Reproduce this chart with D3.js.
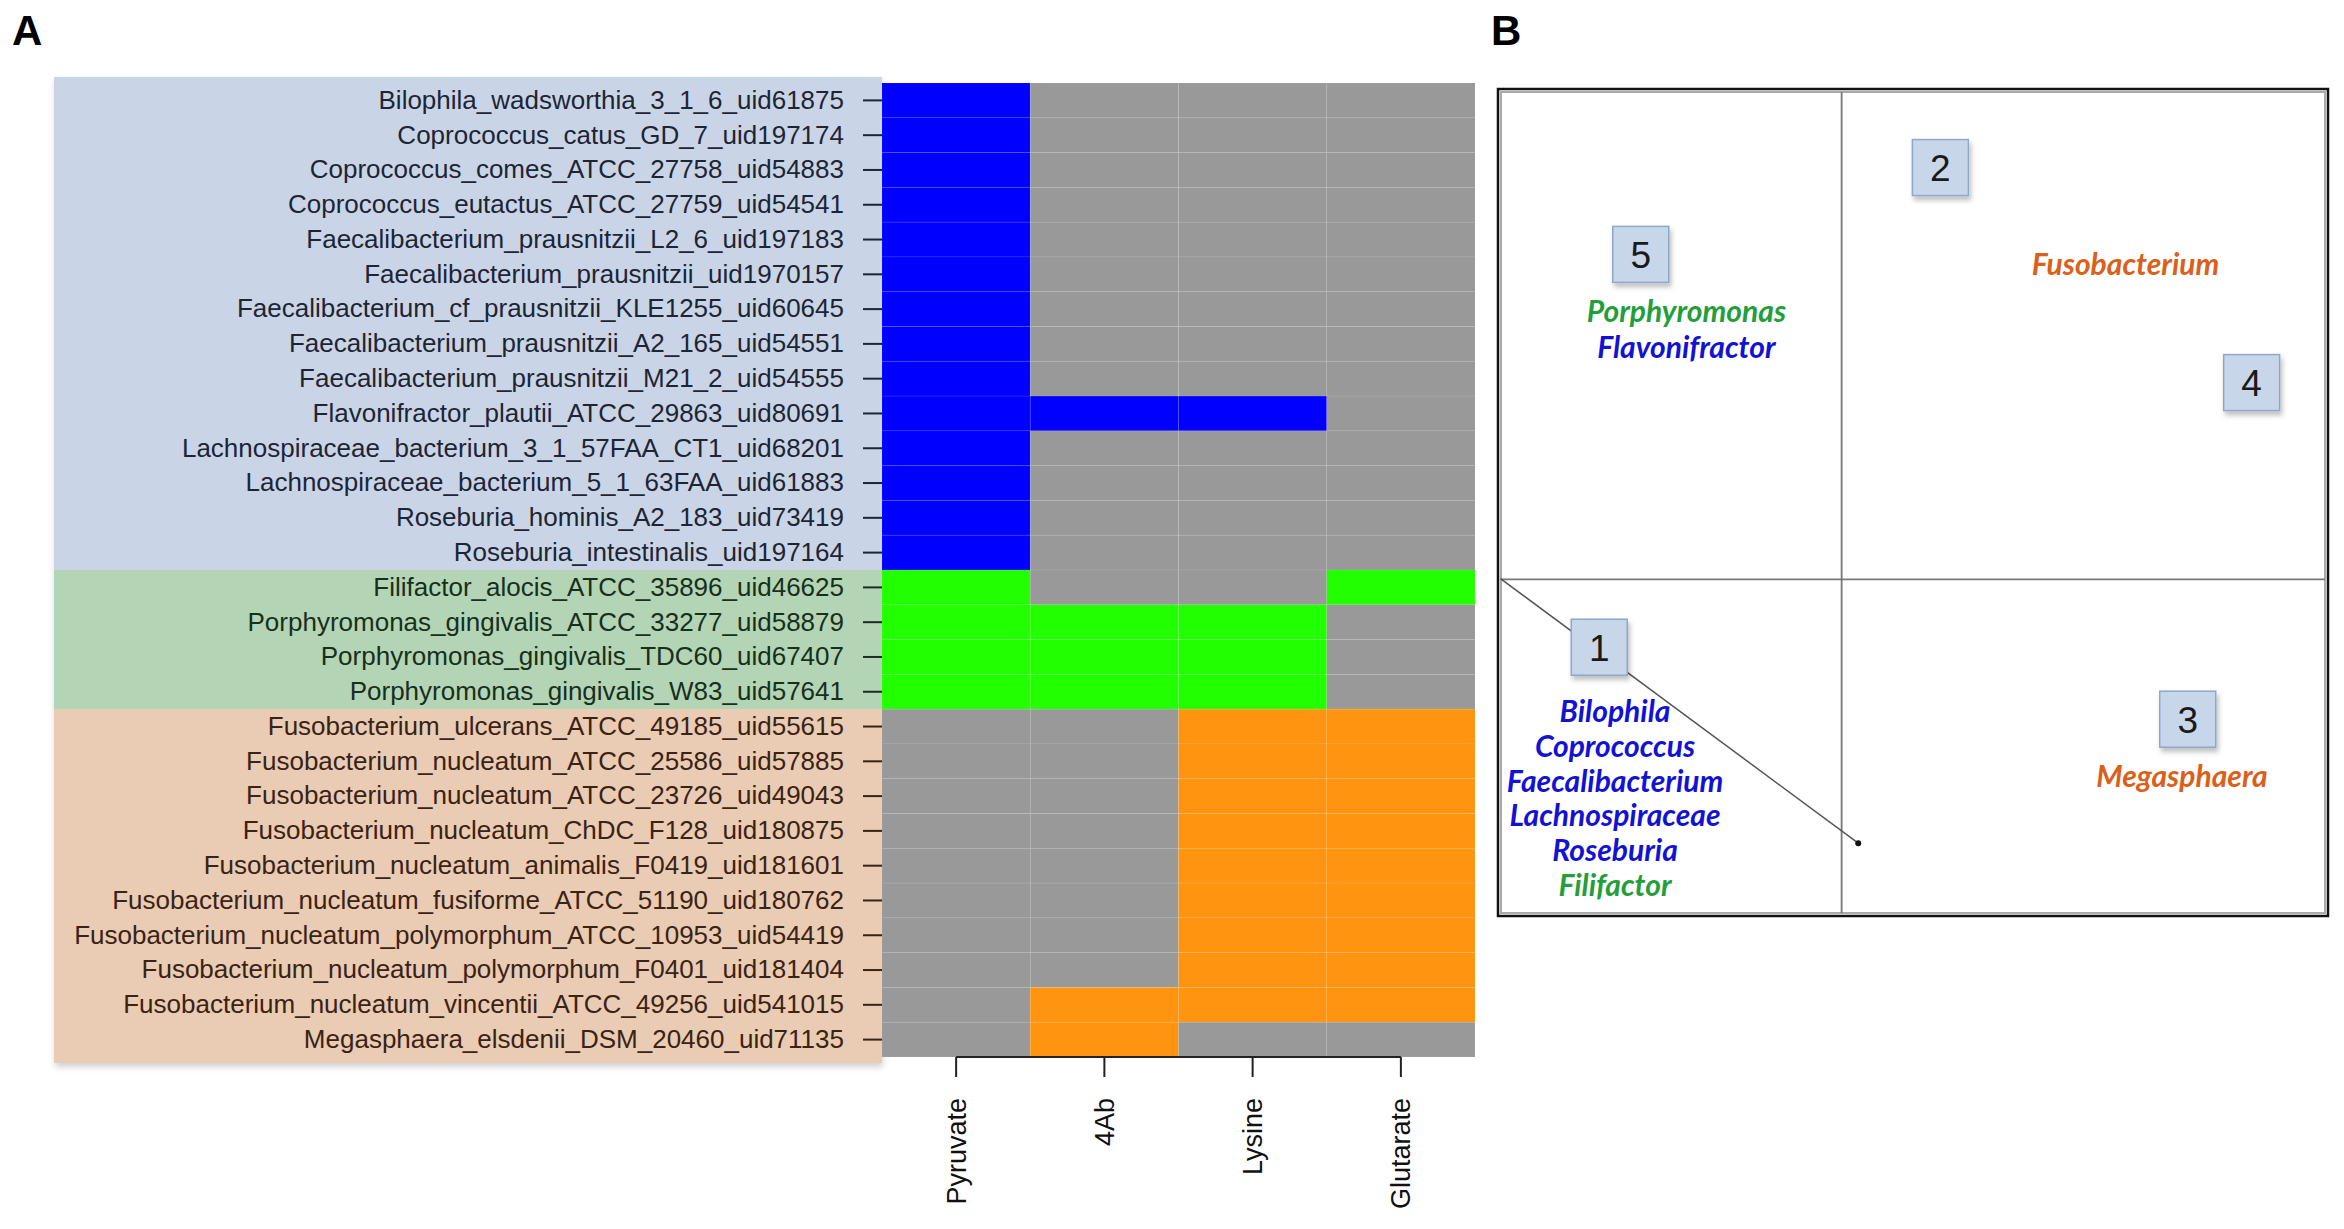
<!DOCTYPE html>
<html>
<head>
<meta charset="utf-8">
<script src="https://cdn.jsdelivr.net/npm/d3@7"></script>
<style>
  body { margin: 0; background: #fff; }
  svg { display: block; }
</style>
</head>
<body>
<svg id="fig" width="2344" height="1229"></svg>
<script>
// Panel A : heatmap présence/absence des voies de production du butyrate
const strains = [
  "Bilophila_wadsworthia_3_1_6_uid61875",
  "Coprococcus_catus_GD_7_uid197174",
  "Coprococcus_comes_ATCC_27758_uid54883",
  "Coprococcus_eutactus_ATCC_27759_uid54541",
  "Faecalibacterium_prausnitzii_L2_6_uid197183",
  "Faecalibacterium_prausnitzii_uid1970157",
  "Faecalibacterium_cf_prausnitzii_KLE1255_uid60645",
  "Faecalibacterium_prausnitzii_A2_165_uid54551",
  "Faecalibacterium_prausnitzii_M21_2_uid54555",
  "Flavonifractor_plautii_ATCC_29863_uid80691",
  "Lachnospiraceae_bacterium_3_1_57FAA_CT1_uid68201",
  "Lachnospiraceae_bacterium_5_1_63FAA_uid61883",
  "Roseburia_hominis_A2_183_uid73419",
  "Roseburia_intestinalis_uid197164",
  "Filifactor_alocis_ATCC_35896_uid46625",
  "Porphyromonas_gingivalis_ATCC_33277_uid58879",
  "Porphyromonas_gingivalis_TDC60_uid67407",
  "Porphyromonas_gingivalis_W83_uid57641",
  "Fusobacterium_ulcerans_ATCC_49185_uid55615",
  "Fusobacterium_nucleatum_ATCC_25586_uid57885",
  "Fusobacterium_nucleatum_ATCC_23726_uid49043",
  "Fusobacterium_nucleatum_ChDC_F128_uid180875",
  "Fusobacterium_nucleatum_animalis_F0419_uid181601",
  "Fusobacterium_nucleatum_fusiforme_ATCC_51190_uid180762",
  "Fusobacterium_nucleatum_polymorphum_ATCC_10953_uid54419",
  "Fusobacterium_nucleatum_polymorphum_F0401_uid181404",
  "Fusobacterium_nucleatum_vincentii_ATCC_49256_uid541015",
  "Megasphaera_elsdenii_DSM_20460_uid71135"
]

// groupe de chaque souche (bleu / vert / orange)
const strainGroup = [
  "blue","blue","blue","blue","blue","blue","blue","blue","blue","blue","blue","blue","blue","blue",
  "green","green","green","green",
  "orange","orange","orange","orange","orange","orange","orange","orange","orange","orange"
]

const substrates = ["Pyruvate", "4Ab", "Lysine", "Glutarate"]

// 1 = voie présente, 0 = absente
const presence = [
  [1,0,0,0],[1,0,0,0],[1,0,0,0],[1,0,0,0],[1,0,0,0],[1,0,0,0],[1,0,0,0],
  [1,0,0,0],[1,0,0,0],[1,1,1,0],[1,0,0,0],[1,0,0,0],[1,0,0,0],[1,0,0,0],
  [1,0,0,1],[1,1,1,0],[1,1,1,0],[1,1,1,0],
  [0,0,1,1],[0,0,1,1],[0,0,1,1],[0,0,1,1],[0,0,1,1],[0,0,1,1],[0,0,1,1],
  [0,0,1,1],[0,1,1,1],[0,1,0,0]
]

// Panel B : clusters et genres (coordonnées dans l'espace du schéma)
const clusterIds = ["1", "2", "3", "4", "5"]
const clusterX   = [-2.92, 1.19, 4.17, 4.94, -2.42]
const clusterY   = [-0.82, 4.98, -1.69, 2.38, 3.93]

const genusNames = ["Porphyromonas", "Flavonifractor", "Fusobacterium", "Megasphaera",
  "Bilophila", "Coprococcus", "Faecalibacterium", "Lachnospiraceae", "Roseburia", "Filifactor"]
const genusGroup = ["green", "blue", "orange", "orange",
  "blue", "blue", "blue", "blue", "blue", "green"]
const genusX = [-1.87, -1.87, 3.42, 4.10, -2.73, -2.73, -2.73, -2.73, -2.73, -2.73]
const genusY = [3.24, 2.81, 3.81, -2.38, -1.60, -2.02, -2.44, -2.86, -3.28, -3.70]

// segment diagonal partant de l'axe
const segX = [-4.11, 0.20]
const segY = [0.01, -3.19]

// ── couleurs ──────────────────────────────────────────
const heatColor  = { blue: "#0000ff", green: "#22ff00", orange: "#ff9410" }
const panelColor = { blue: "#c9d5e6", green: "#b4d4b6", orange: "#eacbb3" }
const textColor  = { blue: "#1d2535", green: "#16301b", orange: "#3a2314" }
const genusColor = { blue: "#1212d4", green: "#249e3b", orange: "#da601b" }
const absentColor = "#999999"

const svg = d3.select("#fig")
const defs = svg.append("defs")

const sh = defs.append("filter").attr("id", "soft").attr("x", "-10%").attr("y", "-10%")
  .attr("width", "130%").attr("height", "130%")
sh.append("feDropShadow").attr("dx", 1).attr("dy", 4).attr("stdDeviation", 3)
  .attr("flood-color", "#000").attr("flood-opacity", 0.18)

const sh2 = defs.append("filter").attr("id", "boxsh").attr("x", "-20%").attr("y", "-20%")
  .attr("width", "150%").attr("height", "150%")
sh2.append("feDropShadow").attr("dx", 2).attr("dy", 4).attr("stdDeviation", 2.5)
  .attr("flood-color", "#000").attr("flood-opacity", 0.25)

// lettres des panneaux
svg.append("text").attr("x", 12).attr("y", 45).text("A")
  .attr("font-family", "Liberation Sans, Arial, sans-serif").attr("font-weight", "bold").attr("font-size", 42)
svg.append("text").attr("x", 1491).attr("y", 45).text("B")
  .attr("font-family", "Liberation Sans, Arial, sans-serif").attr("font-weight", "bold").attr("font-size", 42)

// ── Panel A ───────────────────────────────────────────
const x = d3.scaleBand().domain(substrates).range([882, 1475])
const y = d3.scaleBand().domain(strains).range([83, 1057])

// fonds colorés derrière les noms
const groupsOrder = ["blue", "green", "orange"]
const bgG = svg.append("g").attr("filter", "url(#soft)")
groupsOrder.forEach((g, gi) => {
  const rows = strains.filter((s, i) => strainGroup[i] === g)
  const top = y(rows[0]) - (gi === 0 ? 6 : 0)
  const bot = y(rows[rows.length - 1]) + y.bandwidth() + (gi === groupsOrder.length - 1 ? 6 : 0)
  bgG.append("rect").attr("x", 54).attr("y", top).attr("width", 882 - 54).attr("height", bot - top)
    .attr("fill", panelColor[g])
})

// cellules
const cells = []
strains.forEach((s, i) => substrates.forEach((sub, j) => {
  cells.push({ s, sub, v: presence[i][j], g: strainGroup[i] })
}))
svg.append("g").selectAll("rect").data(cells).join("rect")
  .attr("x", d => x(d.sub)).attr("y", d => y(d.s))
  .attr("width", x.bandwidth()).attr("height", y.bandwidth())
  .attr("fill", d => d.v ? heatColor[d.g] : absentColor)
  .attr("stroke", "rgba(255,255,255,0.07)").attr("stroke-width", 1)

// axe des souches
const yAxis = svg.append("g").attr("transform", "translate(882,0)")
  .call(d3.axisLeft(y).tickSize(19).tickPadding(19))
yAxis.select(".domain").remove()
yAxis.selectAll(".tick text")
  .attr("font-family", "Liberation Sans, Arial, sans-serif").attr("font-size", 26)
  .attr("fill", d => textColor[strainGroup[strains.indexOf(d)]])
yAxis.selectAll(".tick line").attr("stroke-width", 2)
  .attr("stroke", d => textColor[strainGroup[strains.indexOf(d)]])

// axe des substrats
const xAxis = svg.append("g").attr("transform", "translate(0,1057)")
  .call(d3.axisBottom(x).tickSize(20))
xAxis.select(".domain").remove()
xAxis.append("line")
  .attr("x1", x(substrates[0]) + x.bandwidth() / 2)
  .attr("x2", x(substrates[substrates.length - 1]) + x.bandwidth() / 2)
  .attr("stroke", "#222").attr("stroke-width", 2)
xAxis.selectAll(".tick line").attr("stroke", "#222").attr("stroke-width", 2)
xAxis.selectAll(".tick text")
  .attr("font-family", "Liberation Sans, Arial, sans-serif").attr("font-size", 27).attr("fill", "#111")
  .attr("text-anchor", "end").attr("x", 0).attr("y", 0).attr("dy", "0.35em")
  .attr("transform", "translate(0,41) rotate(-90)")

// ── Panel B ───────────────────────────────────────────
const bx = d3.scaleLinear().domain([-4.14, 5.86]).range([1498, 2328])
const by = d3.scaleLinear().domain([-4.07, 5.93]).range([916, 89])

const B = svg.append("g")
B.append("rect").attr("x", bx(-4.14)).attr("y", by(5.93))
  .attr("width", bx(5.86) - bx(-4.14)).attr("height", by(-4.07) - by(5.93))
  .attr("fill", "#fff").attr("stroke", "#111").attr("stroke-width", 2.5)
B.append("rect").attr("x", bx(-4.14) + 3).attr("y", by(5.93) + 3)
  .attr("width", bx(5.86) - bx(-4.14) - 6).attr("height", by(-4.07) - by(5.93) - 6)
  .attr("fill", "none").attr("stroke", "#aaa").attr("stroke-width", 2)

// axes du schéma
B.append("line").attr("x1", bx(0)).attr("x2", bx(0)).attr("y1", by(5.93) + 3).attr("y2", by(-4.07) - 3)
  .attr("stroke", "#777").attr("stroke-width", 1.8)
B.append("line").attr("x1", bx(-4.14) + 3).attr("x2", bx(5.86) - 3).attr("y1", by(0)).attr("y2", by(0))
  .attr("stroke", "#777").attr("stroke-width", 1.8)

// segment diagonal
B.append("line").attr("x1", bx(segX[0])).attr("y1", by(segY[0]))
  .attr("x2", bx(segX[1])).attr("y2", by(segY[1]))
  .attr("stroke", "#555").attr("stroke-width", 1.5)
B.append("circle").attr("cx", bx(segX[1])).attr("cy", by(segY[1])).attr("r", 3).attr("fill", "#111")

// boîtes numérotées
const boxSize = 56
const cl = B.selectAll("g.cluster").data(clusterIds).join("g").attr("class", "cluster")
  .attr("transform", (d, i) => `translate(${bx(clusterX[i])},${by(clusterY[i])})`)
cl.append("rect").attr("x", -boxSize / 2).attr("y", -boxSize / 2)
  .attr("width", boxSize).attr("height", boxSize)
  .attr("fill", "#c8d6ea").attr("stroke", "#8ea8cb").attr("stroke-width", 1.5)
  .attr("filter", "url(#boxsh)")
cl.append("text").text(d => d).attr("text-anchor", "middle").attr("dy", "0.36em")
  .attr("font-family", "Liberation Sans, Arial, sans-serif").attr("font-size", 37).attr("fill", "#1a1a1a")

// noms des genres
B.selectAll("text.genus").data(genusNames).join("text").attr("class", "genus")
  .attr("x", (d, i) => bx(genusX[i])).attr("y", (d, i) => by(genusY[i]))
  .attr("text-anchor", "middle").attr("dy", "0.35em")
  .attr("font-family", "Lato, 'Open Sans', sans-serif").attr("font-weight", "bold")
  .attr("font-style", "italic").attr("font-size", 30)
  .attr("fill", (d, i) => genusColor[genusGroup[i]])
  .text(d => d)
</script>
</body>
</html>
